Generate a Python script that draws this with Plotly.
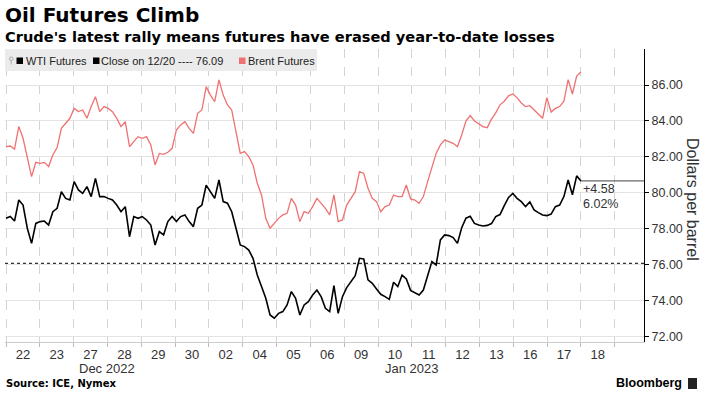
import plotly.graph_objects as go

# ---------------- data ----------------
day_labels = ["22", "23", "27", "28", "29", "30", "02", "04", "05", "06",
              "09", "10", "11", "12", "13", "16", "17", "18"]
month_labels = ["Dec 2022", "Jan 2023"]
month_start_index = [0, 6]
samples_per_day = 8

brent_prices = [
    82.57, 82.61, 82.44, 83.69, 83.04, 82.02, 80.91, 81.70,   # 22
    81.65, 81.70, 81.47, 82.11, 82.52, 83.59, 83.87, 84.15,   # 23
    84.70, 84.52, 84.61, 84.15, 84.80, 85.35, 84.52, 84.80,   # 27
    84.70, 84.52, 84.15, 83.69, 83.96, 82.57, 82.85, 83.13,   # 28
    83.04, 83.13, 82.67, 81.56, 82.20, 82.15, 82.26, 82.48,   # 29
    83.50, 83.78, 83.96, 83.59, 83.31, 84.43, 84.61, 85.91,   # 30
    85.44, 85.07, 86.28, 85.44, 84.89, 84.61, 83.41, 82.20,   # 02
    82.30, 82.02, 81.56, 80.54, 79.89, 78.59, 78.04, 78.31,   # 04
    78.59, 78.78, 78.87, 79.70, 79.33, 78.41, 78.96, 78.87,   # 05
    79.24, 79.70, 79.43, 79.15, 78.78, 79.89, 78.41, 78.50,   # 06
    79.33, 79.70, 80.07, 81.19, 81.09, 80.26, 79.70, 79.52,   # 09
    78.96, 79.24, 79.33, 79.89, 79.80, 79.80, 80.44, 79.67,   # 10
    79.61, 79.43, 79.80, 80.63, 81.37, 82.20, 82.67, 82.94,   # 11
    82.85, 82.76, 82.57, 83.22, 84.00, 84.30, 84.00, 83.85,   # 12
    83.69, 83.63, 84.10, 84.45, 84.90, 85.10, 85.40, 85.50,   # 13
    85.30, 85.00, 84.80, 84.85, 84.60, 84.35, 84.15, 85.30,   # 16
    84.50, 84.70, 84.80, 85.10, 86.30, 85.50, 86.50, 86.72,   # 17
]

wti_prices = [
    78.59, 78.69, 78.44, 79.61, 79.33, 78.04, 77.20, 78.31,   # 22
    78.41, 78.44, 78.22, 78.96, 79.15, 80.07, 79.70, 79.61,   # 23
    80.63, 80.17, 79.98, 80.35, 79.80, 80.81, 79.80, 79.80,   # 27
    79.70, 79.61, 79.33, 78.96, 79.24, 77.57, 78.69, 78.59,   # 28
    78.69, 78.50, 78.22, 77.11, 77.85, 77.67, 78.41, 78.69,   # 29
    78.41, 78.69, 78.78, 78.41, 78.13, 79.15, 79.33, 80.44,   # 30
    80.07, 79.70, 80.72, 79.52, 79.43, 78.96, 78.04, 77.11,   # 02
    77.02, 76.83, 76.37, 75.44, 74.80, 74.15, 73.22, 73.04,   # 04
    73.31, 73.41, 73.78, 74.52, 74.15, 73.22, 73.78, 73.96,   # 05
    74.33, 74.61, 74.24, 73.59, 73.41, 74.85, 73.31, 74.24,   # 06
    74.74, 75.07, 75.41, 76.37, 76.33, 75.17, 74.98, 74.67,   # 09
    74.37, 74.24, 74.09, 75.04, 74.80, 75.44, 75.22, 74.59,   # 10
    74.46, 74.33, 74.61, 75.44, 76.19, 76.00, 77.39, 77.67,   # 11
    77.63, 77.52, 77.20, 78.07, 78.60, 78.70, 78.31, 78.22,   # 12
    78.17, 78.20, 78.30, 78.69, 78.80, 79.30, 79.75, 79.98,   # 13
    79.70, 79.52, 79.24, 79.50, 79.06, 78.91, 78.78, 78.74,   # 16
    78.83, 79.24, 79.33, 79.80, 80.72, 79.90, 80.95, 80.67,   # 17
]

close_dec20 = 76.09
close_label = "Close on 12/20"
y_tick_values = [72, 74, 76, 78, 80, 82, 84, 86]

# ---------------- layout helpers ----------------
W, H = 702, 394
ML, MR, MT, MB = 5, 58, 49, 52
PW, PH = W - ML - MR, H - MT - MB
X_RANGE = [-0.03, 18.865]
Y_RANGE = [71.72, 88.0]

def pxx(xp):
    return (xp - ML) / PW

def pxy(yp):
    return 1 - (yp - MT) / PH

n_days = len(day_labels)
days_with_data = len(wti_prices) / samples_per_day
x_brent = [k * days_with_data / (len(brent_prices) - 1) for k in range(len(brent_prices))]
x_wti = [k * days_with_data / (len(wti_prices) - 1) for k in range(len(wti_prices))]

BRENT_COLOR = "#f07171"
LABEL_FONT = "Liberation Sans, Arial, sans-serif"
BOLD_FONT = "DejaVu Sans, Verdana, sans-serif"

fig = go.Figure()
fig.add_trace(go.Scatter(x=x_brent, y=brent_prices, mode="lines",
                         line=dict(color=BRENT_COLOR, width=1.3),
                         hoverinfo="skip", showlegend=False))
fig.add_trace(go.Scatter(x=x_wti, y=wti_prices, mode="lines",
                         line=dict(color="#000000", width=1.6),
                         hoverinfo="skip", showlegend=False))

shapes = []
shapes.append(dict(type="line", xref="paper", x0=0, x1=1, yref="y",
                   y0=close_dec20, y1=close_dec20,
                   line=dict(color="#333333", width=1.2, dash="dot")))
last = wti_prices[-1]
shapes.append(dict(type="line", xref="x", x0=x_wti[-1], x1=X_RANGE[1], yref="y",
                   y0=last, y1=last, line=dict(color="#444444", width=1)))
shapes.append(dict(type="rect", xref="paper", yref="paper",
                   x0=pxx(5), x1=pxx(317), y0=pxy(71), y1=pxy(49),
                   fillcolor="#ebebeb", line=dict(width=0), layer="above"))
for (x0, col) in [(16.5, "#000000"), (93, "#000000"), (239, BRENT_COLOR)]:
    shapes.append(dict(type="rect", xref="paper", yref="paper",
                       x0=pxx(x0), x1=pxx(x0 + 6.5), y0=pxy(64), y1=pxy(57.5),
                       fillcolor=col, line=dict(width=0), layer="above"))
shapes.append(dict(type="circle", xref="paper", yref="paper",
                   x0=pxx(9.5), x1=pxx(13), y0=pxy(60.5), y1=pxy(57),
                   line=dict(color="#aaaaaa", width=1), layer="above"))
shapes.append(dict(type="line", xref="paper", yref="paper",
                   x0=pxx(11.2), x1=pxx(11.2), y0=pxy(64.5), y1=pxy(60.5),
                   line=dict(color="#aaaaaa", width=1), layer="above"))

annotations = []
def text(xp, yp, s, size, family=LABEL_FONT, color="#333333", xanchor="left", **kw):
    annotations.append(dict(xref="paper", yref="paper", x=pxx(xp), y=pxy(yp), text=s,
                            showarrow=False, xanchor=xanchor, yanchor="middle",
                            font=dict(size=size, family=family, color=color), **kw))

text(3, 15, "<b>Oil Futures Climb</b>", 20, BOLD_FONT, "#000000")
text(3, 36, "<b>Crude's latest rally means futures have erased year-to-date losses</b>", 14.6, BOLD_FONT, "#000000")
text(24, 61, "WTI Futures", 11, color="#222222")
text(99, 61, f"{close_label} ---- {close_dec20:.2f}", 11, color="#222222")
text(246, 61, "Brent Futures", 11, color="#222222")
text(4, 383, "<b>Source: ICE, Nymex</b>", 10, BOLD_FONT, "#000000")
text(684, 383, "<b>Bloomberg</b>", 12.5, LABEL_FONT, "#000000", xanchor="right")
text(693, 199, "Dollars per barrel", 16, LABEL_FONT, "#333333", xanchor="center", textangle=90)

shapes.append(dict(type="rect", xref="paper", yref="paper",
                   x0=pxx(688), x1=pxx(697), y0=pxy(389), y1=pxy(378),
                   fillcolor="#222222", line=dict(width=0)))

bounds = month_start_index + [n_days]
for i, lab in enumerate(month_labels):
    center = (bounds[i] + bounds[i + 1]) / 2
    annotations.append(dict(xref="x", yref="paper", x=center, y=pxy(368), text=lab,
                            showarrow=False, xanchor="center", yanchor="middle",
                            font=dict(size=13, family=LABEL_FONT, color="#333333")))

change = last - close_dec20
pct = change / close_dec20 * 100
for s, shift in [(f"+{change:.2f}", -8), (f"{pct:.2f}%", -23)]:
    annotations.append(dict(xref="x", yref="y", x=x_wti[-1], y=last, yshift=shift, xshift=0,
                            text=s, showarrow=False, xanchor="left", yanchor="middle",
                            font=dict(size=12.5, family=LABEL_FONT, color="#333333")))

fig.update_layout(
    width=W, height=H, margin=dict(l=ML, r=MR, t=MT, b=MB, pad=0),
    paper_bgcolor="white", plot_bgcolor="white",
    shapes=shapes, annotations=annotations, showlegend=False,
    xaxis=dict(range=X_RANGE, tickvals=[i + 0.5 for i in range(n_days)], ticktext=day_labels,
               ticks="", showgrid=False, zeroline=False, showline=True, linecolor="#cccccc",
               tickfont=dict(size=13, family=LABEL_FONT, color="#333333"),
               minor=dict(tickvals=list(range(n_days + 1)), showgrid=True, gridcolor="#d4d4d4",
                          griddash="dash", gridwidth=1, ticks="outside", ticklen=4,
                          tickcolor="#bbbbbb")),
    yaxis=dict(range=Y_RANGE, side="right", tickvals=y_tick_values,
               ticktext=[f"{v:.2f}" for v in y_tick_values],
               showgrid=True, gridcolor="#e3e3e3", gridwidth=1, zeroline=False,
               showline=True, linecolor="#000000", linewidth=1,
               ticks="outside", ticklen=4, tickcolor="#000000",
               tickfont=dict(size=12.5, family=LABEL_FONT, color="#333333")),
)

fig.write_html("out.html", config={"displayModeBar": False},
               post_script="document.body.style.margin='0';")
